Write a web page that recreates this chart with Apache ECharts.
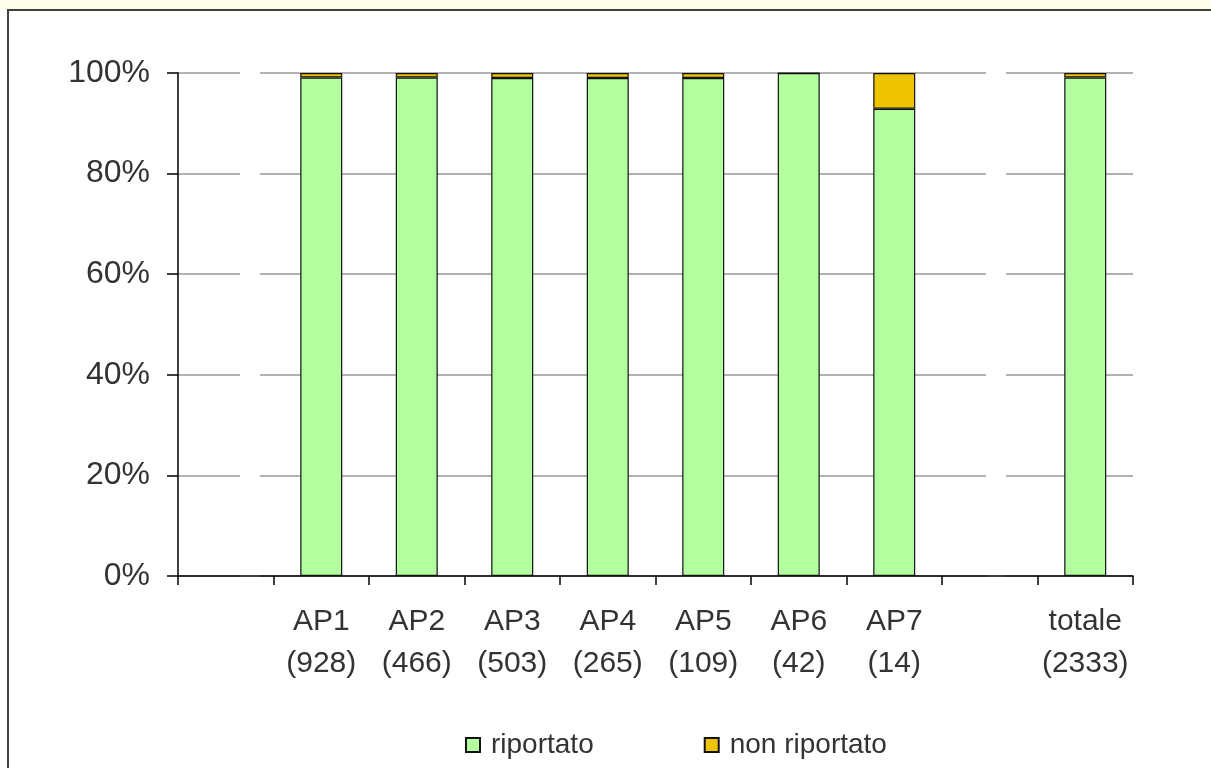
<!DOCTYPE html>
<html>
<head>
<meta charset="utf-8">
<script src="https://cdn.jsdelivr.net/npm/echarts@6/dist/echarts.min.js"></script>
<style>
html,body{margin:0;padding:0;background:#fff;}
#c{width:1211px;height:768px;}
</style>
</head>
<body>
<div id="c"></div>
<script>
var categories = ['', 'AP1\n(928)', 'AP2\n(466)', 'AP3\n(503)', 'AP4\n(265)', 'AP5\n(109)', 'AP6\n(42)', 'AP7\n(14)', '', 'totale\n(2333)'];
var riportato = [null, 99.1, 99.1, 99.0, 99.0, 99.0, 100, 92.9, null, 99.1];
var nonRiportato = [null, 0.9, 0.9, 1.0, 1.0, 1.0, 0, 7.1, null, 0.9];
var yTicks = [0, 20, 40, 60, 80, 100];

var chart = echarts.init(document.getElementById('c'));
var font = 'Liberation Sans';
chart.setOption({
  animation: false,
  backgroundColor: '#ffffff',
  graphic: [
    {type: 'rect', shape: {x: 0, y: 0, width: 1211, height: 9}, style: {fill: '#fdfdeb'}, z: -1},
    {type: 'rect', shape: {x: 8, y: 10, width: 1300, height: 800}, style: {fill: 'none', stroke: '#404040', lineWidth: 2}, z: -1}
  ],
  grid: {left: 178, right: 78, top: 73, bottom: 192},
  legend: {
    left: 460, top: 726,
    itemWidth: 14, itemHeight: 14, itemGap: 110,
    icon: 'rect',
    textStyle: {fontFamily: font, fontSize: 28, color: '#333', padding: [0, 0, 0, 6]},
    data: ['riportato', 'non riportato']
  },
  xAxis: {
    type: 'category',
    data: categories,
    boundaryGap: true,
    axisLine: {lineStyle: {color: '#000', width: 1.5}},
    axisTick: {show: true, length: 9, alignWithLabel: false, lineStyle: {color: '#000', width: 1.5}},
    axisLabel: {interval: 0, fontFamily: font, fontSize: 30, color: '#333', lineHeight: 42, margin: 25}
  },
  yAxis: {
    type: 'value',
    min: 0, max: 100, interval: 20,
    axisLine: {show: true, lineStyle: {color: '#000', width: 1.5}},
    axisTick: {show: true, length: 11, lineStyle: {color: '#000', width: 1.5}},
    axisLabel: {formatter: function (v) { return yTicks.indexOf(v) >= 0 ? v + '%' : ''; }, fontFamily: font, fontSize: 32, color: '#333', margin: 28},
    splitLine: {show: true, lineStyle: {color: '#999', width: 1.5, type: [62, 20, 726, 20, 400]}}
  },
  series: [
    {
      name: 'riportato', type: 'bar', stack: 's', barWidth: 42,
      data: riportato,
      itemStyle: {color: '#b3ffa0', borderColor: '#111', borderWidth: 1.2}
    },
    {
      name: 'non riportato', type: 'bar', stack: 's', barWidth: 42,
      data: nonRiportato,
      itemStyle: {color: '#eec400', borderColor: '#111', borderWidth: 1.2}
    }
  ]
});
</script>
</body>
</html>
